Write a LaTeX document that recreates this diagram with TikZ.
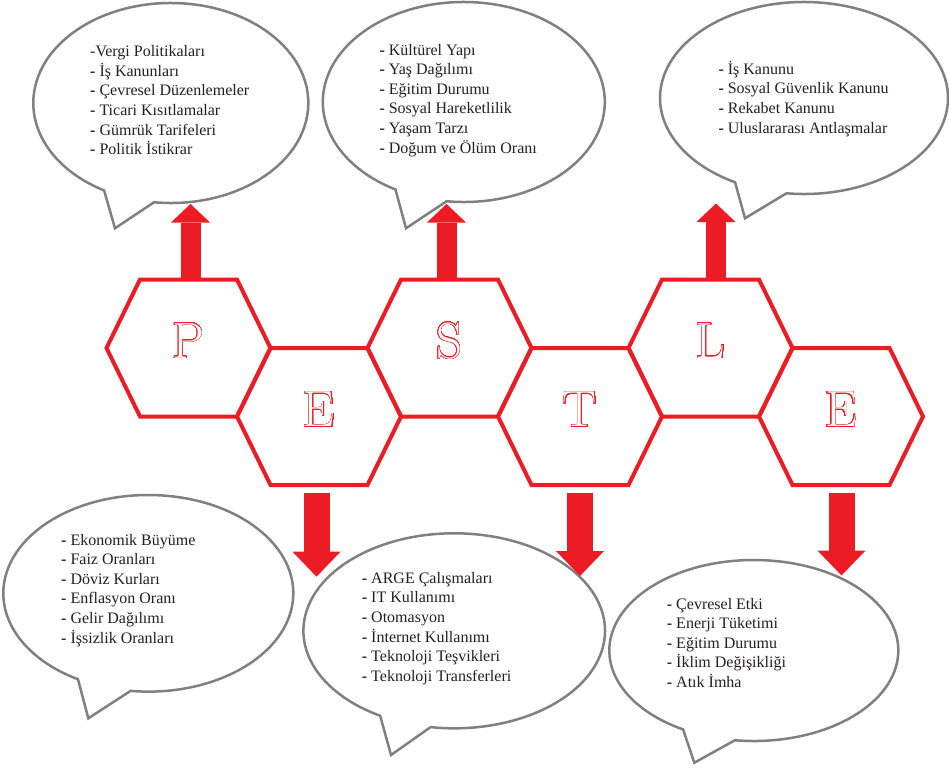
\documentclass[tikz,border=0pt]{standalone}
\usepackage{fontspec}
\usepackage{contour}
\newfontfamily\bubblefont{Liberation Serif}
\usetikzlibrary{arrows.meta, calc}
\definecolor{hexred}{HTML}{ED1C24}
\definecolor{bubblegray}{HTML}{808080}
\definecolor{itemtext}{HTML}{231F20}
\newcommand{\itemdash}{\textbf{-}\ }
\contourlength{0.5pt}
\contournumber{40}

\begin{document}
\begin{tikzpicture}[x=1pt, y=1pt,
    hexline/.style={draw=hexred, line width=4pt, line join=miter},
    hexletter/.style={font=\fontsize{51}{51}\selectfont, inner sep=0pt},
    bubble/.style={draw=bubblegray, line width=2.5pt, line join=miter},
    itemlist/.style={anchor=base west, inner sep=0pt, text=itemtext,
        font=\bubblefont\fontsize{16}{19.6}\selectfont},
    uparrow/.style={draw=hexred, line width=20pt,
        -{Triangle[width=39pt, length=18.5pt, line width=0pt]}},
    downarrow/.style={draw=hexred, line width=26pt,
        -{Triangle[width=48pt, length=25pt, line width=0pt]}}]

    \useasboundingbox (0,0) rectangle (949,-771);

    % --- Speech bubbles (centre, radii, tail angles, tail tip) ---
    \foreach \cx/\cy/\rx/\ry/\ta/\tb/\tipx/\tipy in {
        170.8/-103/137.5/100/241/263/115/-228.3,
        463.8/-102/141/100/241/263/406/-228.3,
        804/-98/144/96/241.4/263/745/-218.3,
        148.3/-593.3/145/98.3/241/263/88.3/-718.3,
        454.2/-630.8/150.8/97.5/240.6/261/391/-755,
        753.8/-650.5/144.5/90.5/240.7/262.5/694.3/-762.7}{
        \draw[bubble] ([shift={(\tb:{\rx} and {\ry})}]\cx,\cy)
            arc[start angle=\tb, end angle=\ta+360, x radius=\rx, y radius=\ry]
            -- (\tipx,\tipy) -- cycle;
    }

    % --- Hexagons with the PESTLE letters ---
    \foreach \name/\letter/\cx/\cy in {P/P/188.5/-348, E/E/319/-416.5, S/S/449.5/-348,
        T/T/580/-416.5, L/L/710.5/-348, Eb/E/841/-416.5}{
        \draw[hexline] (\cx-82,\cy) -- (\cx-48.5,\cy+68.5) -- (\cx+48.5,\cy+68.5)
            -- (\cx+82,\cy) -- (\cx+48.5,\cy-68.5) -- (\cx-48.5,\cy-68.5) -- cycle;
        \node[hexletter] (hex\name) at (\cx,\cy+7)
            {\contour{hexred}{\textcolor{white}{\letter}}};
    }

    % --- Block arrows ---
    \coordinate (Pbase) at (190.5,-279.5);
    \coordinate (Ptip) at (190.5,-204);
    \coordinate (Sbase) at (446.5,-279.5);
    \coordinate (Stip) at (446.5,-204);
    \coordinate (Lbase) at (716,-279.5);
    \coordinate (Ltip) at (716,-203.5);
    \coordinate (Ebase) at (316.5,-492.5);
    \coordinate (Etip) at (316.5,-576.7);
    \coordinate (Tbase) at (580,-492.5);
    \coordinate (Ttip) at (580,-576);
    \coordinate (Ebbase) at (841.5,-492.5);
    \coordinate (Ebtip) at (841.5,-575.5);
    \draw[uparrow] (Pbase) -- (Ptip);
    \draw[uparrow] (Sbase) -- (Stip);
    \draw[uparrow] (Lbase) -- (Ltip);
    \draw[downarrow] (Ebase) -- (Etip);
    \draw[downarrow] (Tbase) -- (Ttip);
    \draw[downarrow] (Ebbase) -- (Ebtip);

    % --- Bubble texts ---
    \node[itemlist] (listP) at (90,-56.7) {\begin{tabular}[t]{@{}l@{}}
        -Vergi Politikaları\\
        \itemdash İş Kanunları\\
        \itemdash Çevresel Düzenlemeler\\
        \itemdash Ticari Kısıtlamalar\\
        \itemdash Gümrük Tarifeleri\\
        \itemdash Politik İstikrar
    \end{tabular}};
    \node[itemlist] (listS) at (379.3,-55) {\begin{tabular}[t]{@{}l@{}}
        \itemdash Kültürel Yapı\\
        \itemdash Yaş Dağılımı\\
        \itemdash Eğitim Durumu\\
        \itemdash Sosyal Hareketlilik\\
        \itemdash Yaşam Tarzı\\
        \itemdash Doğum ve Ölüm Oranı
    \end{tabular}};
    \node[itemlist] (listL) at (718.3,-74.3) {\begin{tabular}[t]{@{}l@{}}
        \itemdash İş Kanunu\\
        \itemdash Sosyal Güvenlik Kanunu\\
        \itemdash Rekabet Kanunu\\
        \itemdash Uluslararası Antlaşmalar
    \end{tabular}};
    \node[itemlist] (listE) at (61,-545) {\begin{tabular}[t]{@{}l@{}}
        \itemdash Ekonomik Büyüme\\
        \itemdash Faiz Oranları\\
        \itemdash Döviz Kurları\\
        \itemdash Enflasyon Oranı\\
        \itemdash Gelir Dağılımı\\
        \itemdash İşsizlik Oranları
    \end{tabular}};
    \node[itemlist] (listT) at (361.7,-583.3) {\begin{tabular}[t]{@{}l@{}}
        \itemdash ARGE Çalışmaları\\
        \itemdash IT Kullanımı\\
        \itemdash Otomasyon\\
        \itemdash İnternet Kullanımı\\
        \itemdash Teknoloji Teşvikleri\\
        \itemdash Teknoloji Transferleri
    \end{tabular}};
    \node[itemlist] (listEb) at (666.7,-609) {\begin{tabular}[t]{@{}l@{}}
        \itemdash Çevresel Etki\\
        \itemdash Enerji Tüketimi\\
        \itemdash Eğitim Durumu\\
        \itemdash İklim Değişikliği\\
        \itemdash Atık İmha
    \end{tabular}};

\end{tikzpicture}
\end{document}
